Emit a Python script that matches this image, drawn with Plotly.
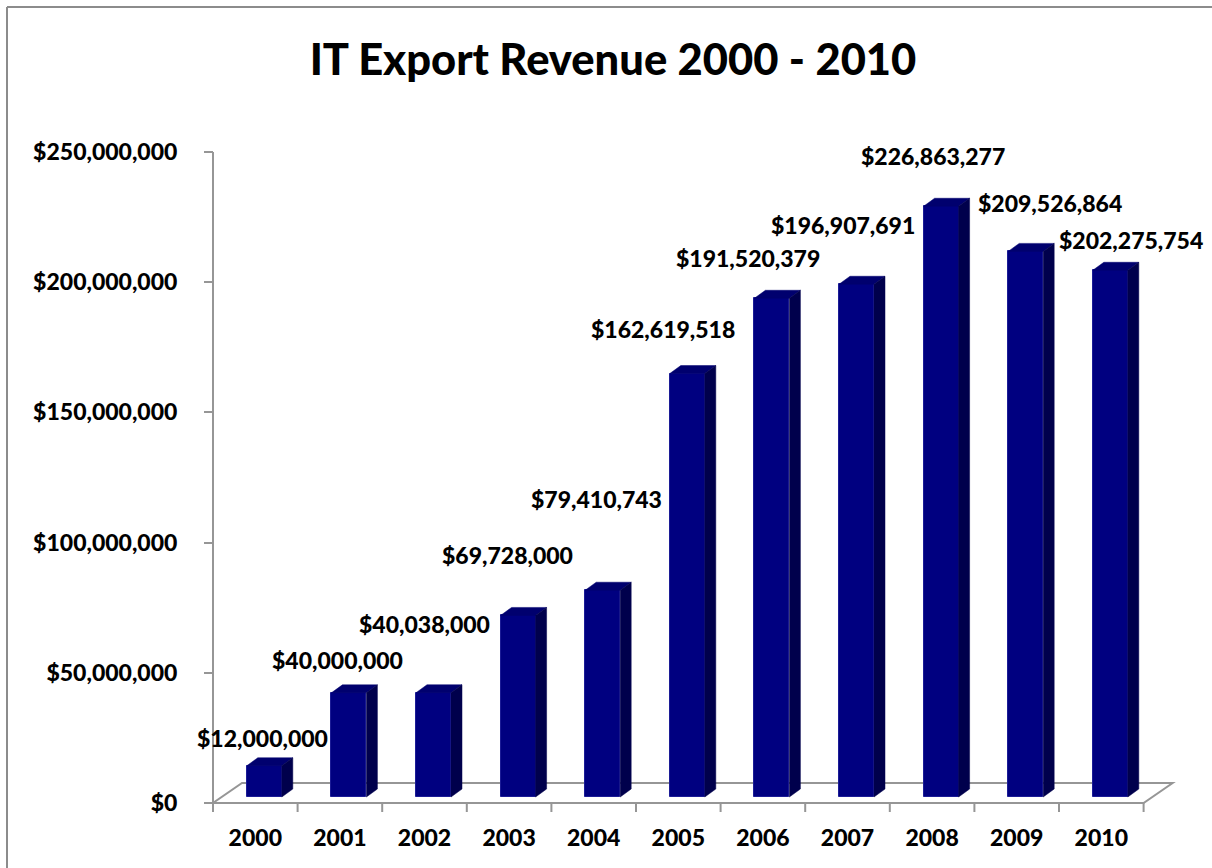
import plotly.graph_objects as go

# ---------------- data ----------------
years = ["2000", "2001", "2002", "2003", "2004", "2005",
         "2006", "2007", "2008", "2009", "2010"]
revenue = [12000000, 40000000, 40038000, 69728000, 79410743, 162619518,
           191520379, 196907691, 226863277, 209526864, 202275754]
y_tick_vals = [0, 50000000, 100000000, 150000000, 200000000, 250000000]
y_tick_text = ["$0", "$50,000,000", "$100,000,000", "$150,000,000",
               "$200,000,000", "$250,000,000"]
title_text = "IT Export Revenue 2000 - 2010"

# label placement offsets in pixels (position, not data)
label_dx = [7, -2, 0, -2, 3, -15, -15, -5, 1, 33, 30]
label_dy = [34, 39, 75, 66, 97, 51, 46, 65, 56, 54, 36]

# ---------------- geometry ----------------
FIG_W, FIG_H = 1212, 868
L, R, T, B = 200, 1190, 140, 822          # plot area in pixels
AX_X_PX, AX_Y0_PX, AX_Y1_PX = 213, 803, 152
CAT = 84.6                                 # px per category
YMAX = 250000000
PXM = (AX_Y0_PX - AX_Y1_PX) / YMAX         # px per value unit

n = len(years)
idx = list(range(n))
x0 = -0.5 - (AX_X_PX - L) / CAT
x1 = x0 + (R - L) / CAT
y0 = -(B - AX_Y0_PX) / PXM
y1 = YMAX + (AX_Y1_PX - T) / PXM

def px_x(p):
    return p / CAT

def px_y(p):
    return p / PXM

# floor depth and bar depth (pixels -> data units)
fdx, fdy = px_x(29), px_y(20)
bdx, bdy = px_x(11), px_y(8)
bar_w = px_x(35)
bar_off = px_x(9) - bar_w / 2
bar_base = px_y(6)

FRONT = "#000080"
TOP = "#00006e"
SIDE = "#00004c"
GRID = "#969696"
FONT = "Lato"
WEIGHT = 900

fig = go.Figure()

# front faces
fig.add_trace(go.Bar(
    x=idx, y=revenue, base=bar_base, width=bar_w, offset=bar_off,
    marker=dict(color=FRONT, line=dict(color="#1c1c96", width=1)),
    hoverinfo="skip", showlegend=False,
))

# top and side faces
tx, ty, sx, sy = [], [], [], []
for i, v in zip(idx, revenue):
    xl = i + bar_off
    xr = xl + bar_w
    yb = bar_base
    yt = bar_base + v
    tx += [xl, xr, xr + bdx, xl + bdx, xl, None]
    ty += [yt, yt, yt + bdy, yt + bdy, yt, None]
    sx += [xr, xr + bdx, xr + bdx, xr, xr, None]
    sy += [yb, yb + bdy, yt + bdy, yt, yb, None]

fig.add_trace(go.Scatter(x=tx, y=ty, mode="lines", fill="toself",
                         fillcolor=TOP, line=dict(color=TOP, width=0.5),
                         hoverinfo="skip", showlegend=False))
fig.add_trace(go.Scatter(x=sx, y=sy, mode="lines", fill="toself",
                         fillcolor=SIDE, line=dict(color=SIDE, width=0.5),
                         hoverinfo="skip", showlegend=False))

# floor, axis lines and boundary ticks (below traces)
shapes = []
xa, xb = -0.5, n - 0.5
floor_path = (f"M {xa},0 L {xb},0 L {xb + fdx},{fdy} "
              f"L {xa + fdx},{fdy} Z")
shapes.append(dict(type="path", path=floor_path, xref="x", yref="y",
                   line=dict(color=GRID, width=2), layer="below"))
shapes.append(dict(type="line", x0=xa, x1=xa, y0=0, y1=YMAX,
                   xref="x", yref="y", line=dict(color=GRID, width=2),
                   layer="below"))
for k in range(n + 1):
    shapes.append(dict(type="line", x0=k - 0.5, x1=k - 0.5, y0=0,
                       y1=-px_y(9), xref="x", yref="y",
                       line=dict(color=GRID, width=2), layer="below"))

# outer chart border (top and left edges)
W, H = R - L, B - T
bx = (7 - L) / W
by = (B - 7) / H
shapes.append(dict(type="line", xref="paper", yref="paper",
                   x0=bx, x1=(FIG_W + 20 - L) / W, y0=by, y1=by,
                   line=dict(color="#8c8c8c", width=2)))
shapes.append(dict(type="line", xref="paper", yref="paper",
                   x0=bx, x1=bx, y0=by, y1=(B - FIG_H - 20) / H,
                   line=dict(color="#8c8c8c", width=2)))

# data labels
annotations = []
for i, v, dx, dy in zip(idx, revenue, label_dx, label_dy):
    annotations.append(dict(
        x=i, y=v, xref="x", yref="y", text=f"${v:,}", showarrow=False,
        xshift=dx, yshift=dy, xanchor="center", yanchor="middle",
        font=dict(family=FONT, size=23, color="#000000", weight=WEIGHT),
    ))

fig.update_layout(
    width=FIG_W, height=FIG_H,
    margin=dict(l=L, r=FIG_W - R, t=T, b=FIG_H - B, pad=0),
    paper_bgcolor="white", plot_bgcolor="white",
    shapes=shapes, annotations=annotations,
    title=dict(text=title_text, x=613 / FIG_W, y=1 - 60 / FIG_H,
               xanchor="center", yanchor="middle",
               font=dict(family=FONT, size=43.5, color="#000000",
                         weight=WEIGHT)),
    xaxis=dict(range=[x0, x1], tickmode="array", tickvals=idx,
               ticktext=years, ticks="", showgrid=False, zeroline=False,
               showline=False, anchor="free",
               position=(B - AX_Y0_PX) / H, ticklabelstandoff=19,
               tickfont=dict(family=FONT, size=23, color="#000000",
                             weight=WEIGHT)),
    yaxis=dict(range=[y0, y1], tickmode="array", tickvals=y_tick_vals,
               ticktext=y_tick_text, ticks="outside", ticklen=9,
               tickwidth=2, tickcolor=GRID, showgrid=False,
               zeroline=False, showline=False, anchor="free",
               position=(AX_X_PX - L) / W, ticklabelstandoff=22,
               tickfont=dict(family=FONT, size=23, color="#000000",
                             weight=WEIGHT)),
    bargap=0,
)

fig.write_html(
    "out.html",
    config={"displayModeBar": False},
    post_script="document.body.style.margin='0';"
                "document.body.style.overflow='hidden';",
)
